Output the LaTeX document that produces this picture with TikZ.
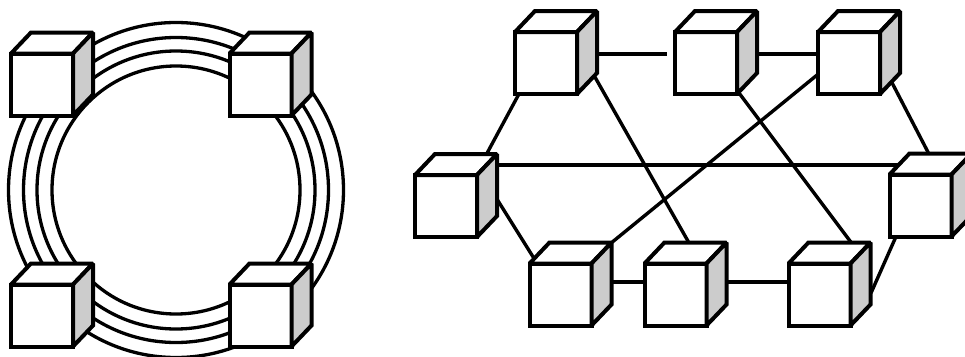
\documentclass[tikz,border=0pt]{standalone}
\pgfdeclarelayer{bg}
\pgfsetlayers{bg,main}
\definecolor{sidegray}{HTML}{CCCCCC}
\tikzset{
  cubefront/.style={draw, fill=white, line width=4pt, minimum size=62pt, inner sep=0pt, outer sep=0pt},
  cubeface/.style={draw, line width=4pt, miter limit=1.5},
  link/.style={line width=3.4pt},
  ring/.style={line width=3.3pt},
}
\newcommand\mycube[2]{%
  \node[cubefront] (#1) at (#2) {};
  \draw[cubeface, fill=white] (#1.north west) -- ++(20,-21) -- ([shift={(20,-21)}]#1.north east) -- (#1.north east) -- cycle;
  \draw[cubeface, fill=sidegray] (#1.north east) -- ++(20,-21) -- ([shift={(20,-21)}]#1.south east) -- (#1.south east) -- cycle;
}
\begin{document}
\begin{tikzpicture}[x=1pt,y=-1pt]
\useasboundingbox (0,0) rectangle (965,356);
% left group: rings
\coordinate (ringc) at (176,190);
\begin{pgfonlayer}{bg}
  \foreach \r in {167.5,152.5,139,124} \draw[ring] (ringc) circle[radius=\r];
\end{pgfonlayer}
\mycube{tl}{42,84.5}
\mycube{tr}{260.5,84.5}
\mycube{bl}{42,315.5}
\mycube{br}{260.5,315.5}
% right group
\mycube{A}{546,63}
\mycube{B}{706,63}
\mycube{C}{849,63}
\mycube{D}{446,206}
\mycube{E}{920.5,205.5}
\mycube{F}{560.5,294.5}
\mycube{G}{675.5,294.5}
\mycube{H}{819.5,294.5}
\begin{pgfonlayer}{bg}
  \draw[link] ([shift={(44,-9)}]A.center) -- ([shift={(-39,-9)}]B.center);
  \draw[link] ([shift={(0,-9)}]B.center) -- ([shift={(0,-9)}]C.center);
  \draw[link] ([shift={(-19,16)}]A.center) -- ([shift={(32,-36)}]D.center);
  \draw[link] ([shift={(37,-7)}]A.center) -- ([shift={(21.5,-37.5)}]G.center);
  \draw[link] ([shift={(21,14)}]B.center) -- ([shift={(39.5,-41.5)}]H.center);
  \draw[link] ([shift={(-16,-1)}]C.center) -- ([shift={(44.5,-46.5)}]F.center);
  \draw[link] ([shift={(39,12)}]C.center) -- ([shift={(9.5,-49.5)}]E.center);
  \draw[link] ([shift={(34,-41)}]D.center) -- ([shift={(-20.5,-40.5)}]E.center);
  \draw[link] ([shift={(49,-10)}]D.center) -- ([shift={(-25.5,-34.5)}]F.center);
  \draw[link] ([shift={(0,-12.5)}]F.center) -- ([shift={(0,-12.5)}]G.center);
  \draw[link] ([shift={(0,-12.5)}]G.center) -- ([shift={(0,-12.5)}]H.center);
  \draw[link] ([shift={(51.5,-1.5)}]H.center) -- ([shift={(-22.5,26.5)}]E.center);
\end{pgfonlayer}
\end{tikzpicture}
\end{document}
